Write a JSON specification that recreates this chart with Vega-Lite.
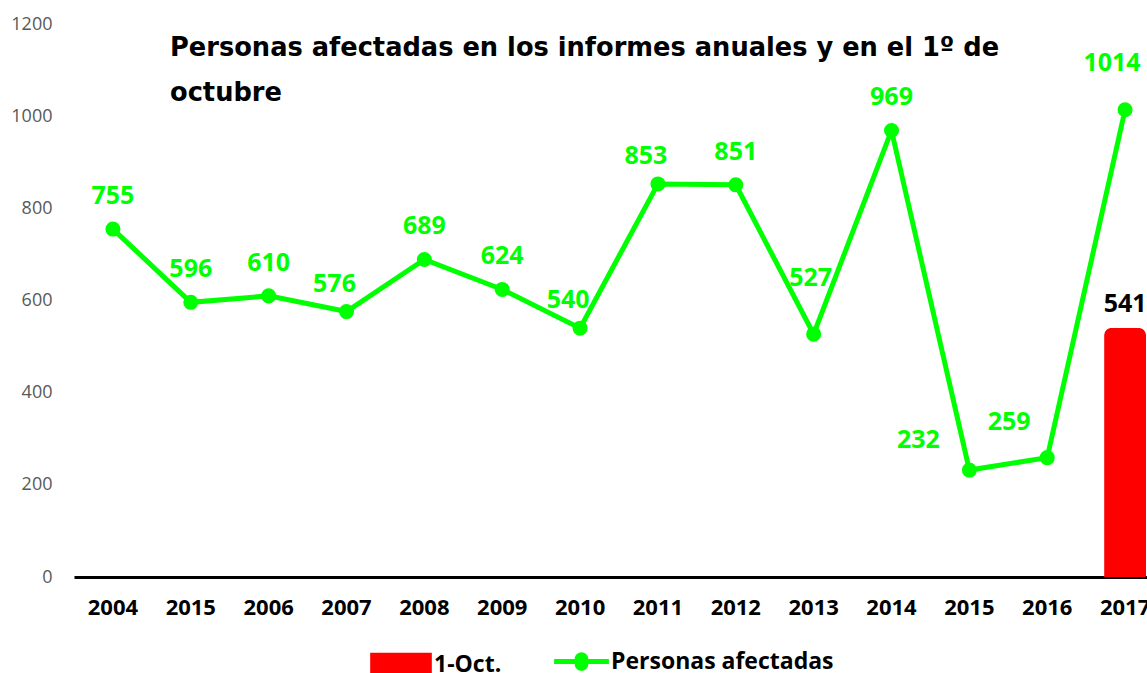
{
  "$schema": "https://vega.github.io/schema/vega-lite/v6.json",
  "width": 1073,
  "height": 553,
  "autosize": {"type": "none"},
  "padding": {"left": 74, "top": 24, "right": 0, "bottom": 96},
  "background": "white",
  "config": {"view": {"stroke": null}, "font": "Open Sans"},
  "title": {
    "text": ["Personas afectadas en los informes anuales y en el 1º de", "octubre"],
    "anchor": "start",
    "frame": "group",
    "orient": "top",
    "baseline": "top",
    "offset": 0,
    "dx": 96,
    "dy": 92,
    "fontSize": 25.7,
    "fontWeight": "bold",
    "color": "black",
    "lineHeight": 45,
    "font": "DejaVu Sans"
  },
  "datasets": {
    "personas": [
      {"k": "2004", "v": 755},
      {"k": "2015", "v": 596},
      {"k": "2006", "v": 610},
      {"k": "2007", "v": 576},
      {"k": "2008", "v": 689},
      {"k": "2009", "v": 624},
      {"k": "2010", "v": 540},
      {"k": "2011", "v": 853},
      {"k": "2012", "v": 851},
      {"k": "2013", "v": 527},
      {"k": "2014", "v": 969},
      {"k": "2015b", "v": 232},
      {"k": "2016", "v": 259},
      {"k": "2017", "v": 1014}
    ],
    "oct": [
      {"k": "2017", "v": 541}
    ]
  },
  "encoding": {
    "x": {
      "field": "k",
      "type": "nominal",
      "sort": null,
      "scale": {
        "domain": ["2004", "2015", "2006", "2007", "2008", "2009", "2010", "2011", "2012", "2013", "2014", "2015b", "2016", "2017"],
        "range": [0, 1090],
        "paddingInner": 0,
        "paddingOuter": 0
      },
      "axis": {
        "title": null,
        "labelAngle": 0,
        "labelExpr": "slice(datum.label, 0, 4)",
        "labelFont": "Open Sans",
        "labelFontSize": 22,
        "labelFontWeight": "bold",
        "labelColor": "black",
        "labelPadding": 20,
        "ticks": false,
        "domainColor": "black",
        "domainWidth": 3,
        "grid": false
      }
    },
    "y": {
      "field": "v",
      "type": "quantitative",
      "scale": {"domain": [0, 1200]},
      "axis": {
        "title": null,
        "values": [0, 200, 400, 600, 800, 1000, 1200],
        "format": "d",
        "labelFont": "Open Sans",
        "labelFontSize": 18,
        "labelColor": "#595959",
        "labelPadding": 22,
        "ticks": false,
        "domain": false,
        "grid": false
      }
    }
  },
  "layer": [
    {
      "data": {"name": "oct"},
      "mark": {"type": "bar", "size": 42, "cornerRadiusTopLeft": 8, "cornerRadiusTopRight": 8},
      "encoding": {
        "fill": {
          "datum": "1-Oct.",
          "scale": {"range": ["#ff0000"]},
          "legend": {
            "title": null,
            "orient": "none",
            "legendX": 296,
            "legendY": 610,
            "symbolType": "M-1,-0.4H1V0.4H-1Z",
            "symbolSize": 3800,
            "symbolStrokeWidth": 0,
            "labelFont": "Open Sans",
            "labelFontSize": 23,
            "labelFontWeight": "bold",
            "labelColor": "black",
            "labelLimit": 400,
            "labelOffset": 2
          }
        }
      }
    },
    {
      "data": {"name": "oct"},
      "mark": {"type": "text", "dy": -24, "fontSize": 25, "fontWeight": "bold", "color": "black", "font": "Open Sans"},
      "encoding": {"text": {"field": "v", "type": "quantitative"}}
    },
    {
      "data": {"name": "personas"},
      "mark": {"type": "line", "color": "#00ff00", "strokeWidth": 5, "point": {"filled": true, "size": 170, "color": "#00ff00"}},
      "encoding": {
        "stroke": {
          "datum": "Personas afectadas",
          "scale": {"range": ["#00ff00"]},
          "legend": {
            "title": null,
            "orient": "none",
            "legendX": 480,
            "legendY": 610,
            "symbolType": "M-1,-0.09H-0.25A0.25,0.25 0 0,1 0.25,-0.09H1V0.09H0.25A0.25,0.25 0 0,1 -0.25,0.09H-1Z",
            "symbolSize": 3000,
            "symbolFillColor": "#00ff00",
            "symbolStrokeWidth": 0,
            "labelFont": "Open Sans",
            "labelFontSize": 23,
            "labelFontWeight": "bold",
            "labelColor": "black",
            "labelLimit": 400,
            "labelOffset": 2
          }
        }
      }
    },
    {
      "data": {"name": "personas"},
      "transform": [{"filter": "indexof(['2004','2015','2006','2008','2009','2012','2014'], datum.k) >= 0"}],
      "mark": {"type": "text", "dy": -33, "fontSize": 25, "fontWeight": "bold", "color": "#00ff00", "font": "Open Sans"},
      "encoding": {"text": {"field": "v", "type": "quantitative"}}
    },
    {
      "data": {"name": "personas"},
      "transform": [{"filter": "indexof(['2007','2010','2011'], datum.k) >= 0"}],
      "mark": {"type": "text", "dy": -28, "dx": -12, "fontSize": 25, "fontWeight": "bold", "color": "#00ff00", "font": "Open Sans"},
      "encoding": {"text": {"field": "v", "type": "quantitative"}}
    },
    {
      "data": {"name": "personas"},
      "transform": [{"filter": "datum.k == '2013'"}],
      "mark": {"type": "text", "dy": -56, "dx": -3, "fontSize": 25, "fontWeight": "bold", "color": "#00ff00", "font": "Open Sans"},
      "encoding": {"text": {"field": "v", "type": "quantitative"}}
    },
    {
      "data": {"name": "personas"},
      "transform": [{"filter": "datum.k == '2015b'"}],
      "mark": {"type": "text", "dy": -30, "dx": -51, "fontSize": 25, "fontWeight": "bold", "color": "#00ff00", "font": "Open Sans"},
      "encoding": {"text": {"field": "v", "type": "quantitative"}}
    },
    {
      "data": {"name": "personas"},
      "transform": [{"filter": "datum.k == '2016'"}],
      "mark": {"type": "text", "dy": -36, "dx": -38, "fontSize": 25, "fontWeight": "bold", "color": "#00ff00", "font": "Open Sans"},
      "encoding": {"text": {"field": "v", "type": "quantitative"}}
    },
    {
      "data": {"name": "personas"},
      "transform": [{"filter": "datum.k == '2017'"}],
      "mark": {"type": "text", "dy": -47, "dx": -13, "fontSize": 25, "fontWeight": "bold", "color": "#00ff00", "font": "Open Sans"},
      "encoding": {"text": {"field": "v", "type": "quantitative"}}
    }
  ]
}
